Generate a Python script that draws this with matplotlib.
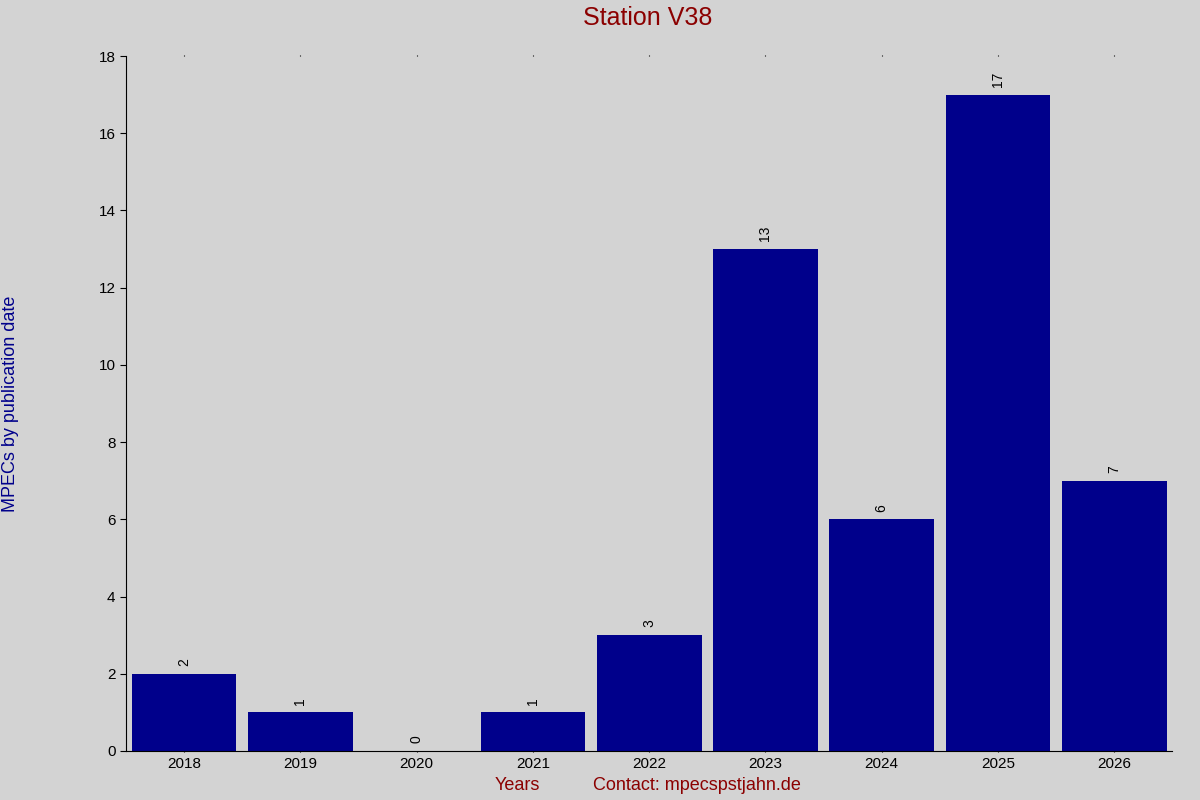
import matplotlib
matplotlib.use("Agg")
import matplotlib.pyplot as plt

years = ["2018", "2019", "2020", "2021", "2022", "2023", "2024", "2025", "2026"]
counts = [2, 1, 0, 1, 3, 13, 6, 17, 7]

plt.rcParams['font.family'] = ['Liberation Sans', 'DejaVu Sans']
fig = plt.figure(figsize=(12, 8), dpi=100, facecolor='#d3d3d3')
ax = fig.add_axes([0.105, 0.06125, 0.872, 0.86875], facecolor='#d3d3d3')
x = list(range(len(years)))
bars = ax.bar(x, counts, width=0.9, color='#00008b')
for xi, c in zip(x, counts):
    ax.text(xi, c + 0.2, str(c), rotation=90, ha='center', va='bottom', fontsize=10)
ax.set_xlim(-0.5, len(years) - 0.5)
ax.set_ylim(0, 18)
ax.set_yticks(range(0, 19, 2))
ax.set_xticks(x)
ax.set_xticklabels(years)
ax.tick_params(axis='both', labelsize=11, direction='out', length=4)
ax.tick_params(axis='x', top=True, length=1)
for s in ['top', 'right']:
    ax.spines[s].set_visible(False)
fig.text(0.54, 0.977, "Station V38", color='#8b0000', fontsize=18, ha='center', va='center')
fig.text(0.009, 0.495, "MPECs by publication date", color='#00008b', fontsize=13,
         rotation=90, ha='center', va='center')
fig.text(0.431, 0.018, "Years", color='#8b0000', fontsize=13, ha='center', va='center')
fig.text(0.581, 0.018, "Contact: mpecspstjahn.de", color='#8b0000', fontsize=13, ha='center', va='center')
fig.savefig("out.png", dpi=100, facecolor=fig.get_facecolor())
